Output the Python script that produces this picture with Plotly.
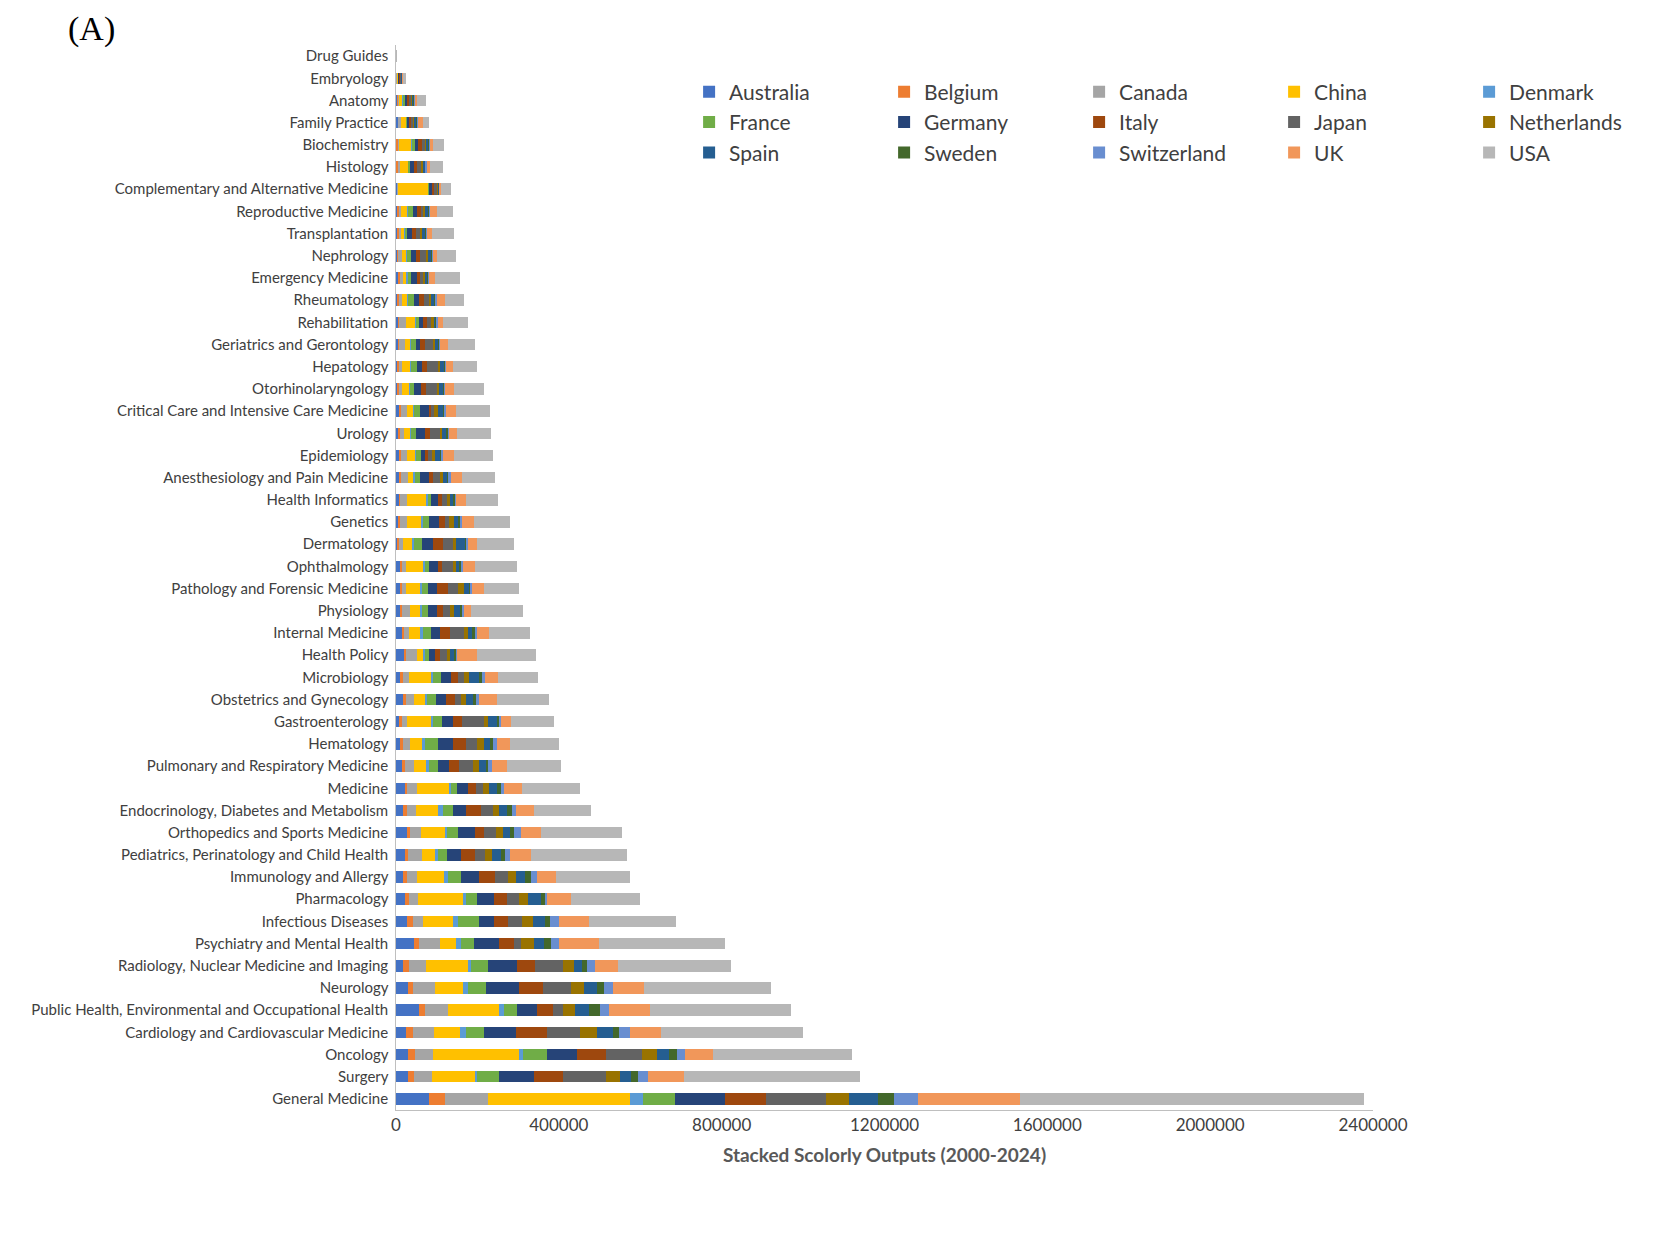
import plotly.graph_objects as go

# categories, top of the chart to bottom
categories = [
    "Drug Guides", "Embryology", "Anatomy", "Family Practice", "Biochemistry",
    "Histology", "Complementary and Alternative Medicine", "Reproductive Medicine",
    "Transplantation", "Nephrology", "Emergency Medicine", "Rheumatology",
    "Rehabilitation", "Geriatrics and Gerontology", "Hepatology",
    "Otorhinolaryngology", "Critical Care and Intensive Care Medicine", "Urology",
    "Epidemiology", "Anesthesiology and Pain Medicine", "Health Informatics",
    "Genetics", "Dermatology", "Ophthalmology", "Pathology and Forensic Medicine",
    "Physiology", "Internal Medicine", "Health Policy", "Microbiology",
    "Obstetrics and Gynecology", "Gastroenterology", "Hematology",
    "Pulmonary and Respiratory Medicine", "Medicine",
    "Endocrinology, Diabetes and Metabolism", "Orthopedics and Sports Medicine",
    "Pediatrics, Perinatology and Child Health", "Immunology and Allergy",
    "Pharmacology", "Infectious Diseases", "Psychiatry and Mental Health",
    "Radiology, Nuclear Medicine and Imaging", "Neurology",
    "Public Health, Environmental and Occupational Health",
    "Cardiology and Cardiovascular Medicine", "Oncology", "Surgery",
    "General Medicine",
]

# outputs in thousands, same order as categories
australia = [0.05, 1, 4, 5, 2, 2, 3, 4, 4, 3, 6, 4, 5, 5, 4, 4, 8, 5, 8, 8, 8, 6, 4, 12,
             10, 10, 14, 20, 10, 18, 7, 10, 14, 22, 17, 26, 23, 17, 22, 26, 45, 18, 30, 57, 25, 29, 30, 82]
belgium = [0.02, 0.5, 1, 1, 4, 4, 1, 3, 3, 3, 3, 3, 2, 3, 3, 3, 4, 4, 4, 5, 3, 4, 4, 3,
           5, 4, 5, 5, 6, 7, 7, 7, 8, 5, 9, 9, 6, 10, 10, 15, 11, 14, 12, 14, 17, 17, 15, 38]
canada = [0.2, 1, 3, 6, 2, 3, 1, 6, 5, 9, 8, 8, 18, 15, 8, 8, 16, 11, 14, 16, 16, 18, 10, 10,
          10, 21, 13, 26, 15, 20, 13, 18, 23, 24, 24, 26, 35, 24, 23, 25, 52, 41, 53, 57, 51, 46, 44, 105]
china = [0.1, 3, 7, 13, 30, 21, 74, 15, 8, 11, 10, 13, 22, 13, 21, 18, 15, 15, 21, 14, 48, 35, 23, 42,
         33, 25, 28, 15, 54, 26, 60, 30, 31, 79, 54, 59, 32, 66, 109, 75, 40, 103, 70, 125, 64, 210, 105, 350]
denmark = [0.02, 0.3, 1, 1, 2, 1, 1, 2, 2, 2, 2, 2, 2, 2, 2, 2, 2, 3, 3, 3, 3, 3, 3, 3,
           5, 5, 6, 5, 5, 5, 3, 5, 4, 5, 12, 5, 6, 10, 8, 11, 11, 8, 11, 12, 14, 10, 6, 32]
france = [0.05, 1, 5, 1, 6, 3, 1, 12, 6, 8, 8, 14, 7, 10, 13, 8, 14, 12, 11, 14, 8, 15, 20, 10,
          15, 13, 20, 9, 21, 22, 24, 32, 22, 15, 24, 28, 23, 32, 28, 51, 32, 43, 44, 32, 45, 59, 52, 78]
germany = [0.05, 2, 6, 6, 7, 9, 7, 10, 11, 12, 15, 12, 11, 11, 13, 18, 21, 20, 10, 20, 16, 25, 27, 23,
           23, 22, 23, 16, 23, 26, 25, 38, 27, 26, 31, 41, 35, 44, 40, 37, 63, 69, 81, 50, 78, 74, 88, 124]
italy = [0.05, 2, 5, 3, 11, 9, 5, 10, 10, 11, 8, 13, 10, 12, 13, 13, 6, 14, 8, 11, 12, 14, 25, 10,
         26, 16, 24, 12, 18, 21, 24, 33, 26, 20, 37, 21, 35, 39, 32, 36, 35, 45, 59, 38, 77, 71, 69, 101]
japan = [0.05, 2, 6, 6, 7, 9, 8, 6, 11, 15, 8, 11, 10, 20, 25, 26, 7, 23, 9, 16, 11, 10, 24, 28,
         26, 17, 33, 17, 16, 15, 52, 25, 35, 18, 30, 31, 23, 32, 30, 33, 18, 68, 71, 26, 81, 88, 107, 147]
netherlands = [0.02, 1, 3, 3, 5, 5, 3, 4, 4, 5, 4, 5, 6, 5, 5, 5, 11, 5, 8, 8, 7, 13, 7, 6,
               13, 9, 11, 8, 11, 12, 11, 18, 14, 15, 16, 16, 18, 21, 23, 27, 32, 29, 30, 29, 41, 36, 34, 57]
spain = [0.05, 1, 3, 6, 4, 6, 2, 8, 8, 9, 5, 10, 5, 9, 12, 12, 13, 13, 13, 12, 10, 10, 23, 9,
         13, 15, 10, 10, 25, 18, 22, 15, 18, 18, 18, 18, 23, 23, 32, 29, 25, 20, 32, 34, 39, 31, 27, 71]
sweden = [0.02, 0.5, 1, 1, 2, 1, 1, 2, 2, 2, 2, 3, 2, 2, 3, 2, 3, 3, 3, 3, 3, 3, 3, 4,
          5, 6, 8, 5, 7, 7, 7, 8, 5, 10, 13, 10, 9, 14, 8, 13, 17, 11, 18, 26, 17, 19, 17, 38]
switzerland = [0.02, 0.5, 2, 1, 2, 2, 1, 2, 2, 2, 2, 3, 2, 2, 2, 2, 4, 3, 3, 4, 3, 6, 3, 4,
               3, 3, 4, 2, 8, 7, 3, 9, 8, 8, 9, 16, 11, 15, 5, 23, 19, 20, 22, 22, 25, 21, 25, 59]
uk = [0.3, 2, 5, 13, 8, 8, 2, 16, 12, 9, 14, 20, 13, 18, 16, 21, 24, 18, 27, 28, 23, 29, 24, 29,
      30, 18, 29, 48, 31, 44, 24, 31, 37, 45, 46, 51, 53, 45, 60, 72, 98, 57, 75, 102, 78, 67, 88, 252]
usa = [1.2, 7, 22, 16, 27, 33, 24, 40, 54, 47, 63, 45, 61, 68, 60, 74, 83, 84, 97, 82, 79, 88, 90, 103,
       85, 129, 102, 146, 100, 128, 107, 122, 133, 141, 138, 197, 236, 182, 170, 216, 309, 277, 314, 346, 348, 343, 433, 843]

countries = ["Australia", "Belgium", "Canada", "China", "Denmark", "France", "Germany",
             "Italy", "Japan", "Netherlands", "Spain", "Sweden", "Switzerland", "UK", "USA"]
series = [australia, belgium, canada, china, denmark, france, germany, italy, japan,
          netherlands, spain, sweden, switzerland, uk, usa]
colors = ["#4472C4", "#ED7D31", "#A5A5A5", "#FFC000", "#5B9BD5", "#70AD47", "#264478",
          "#9E480E", "#636363", "#997300", "#255E91", "#43682B", "#698ED0", "#F1975A", "#B7B7B7"]

x_ticks = [0, 400000, 800000, 1200000, 1600000, 2000000, 2400000]

fig = go.Figure()
for name, vals, col in zip(countries, series, colors):
    fig.add_trace(
        go.Bar(
            name=name,
            y=categories,
            x=[v * 1000 for v in vals],
            orientation="h",
            marker=dict(color=col, line=dict(width=0)),
        )
    )

fig.update_layout(
    barmode="stack",
    bargap=0.48,
    width=1668,
    height=1247,
    margin=dict(l=388, r=138, t=37, b=145, pad=0),
    template=None,
    plot_bgcolor="white",
    paper_bgcolor="white",
    font=dict(family="Lato, Open Sans, sans-serif", size=15, color="#404040"),
    legend=dict(
        orientation="h",
        traceorder="normal",
        x=0.3,
        y=0.975,
        xanchor="left",
        yanchor="top",
        entrywidth=150,
        entrywidthmode="pixels",
        font=dict(size=21, color="#404040"),
        itemwidth=30,
    ),
    showlegend=True,
)
fig.update_xaxes(
    range=[0, 2400000],
    tickvals=x_ticks,
    ticktext=[str(t) for t in x_ticks],
    showgrid=False,
    zeroline=False,
    showline=True,
    linecolor="#BFBFBF",
    ticks="",
    tickfont=dict(size=17, color="#404040"),
    title=dict(text="<b>Stacked Scolorly Outputs (2000-2024)</b>",
               font=dict(size=19, color="#595959"), standoff=14),
)
fig.update_yaxes(
    autorange="reversed",
    showgrid=False,
    zeroline=False,
    showline=True,
    linecolor="#BFBFBF",
    ticks="",
    tickfont=dict(size=15, color="#404040"),
    ticksuffix=" ",
)
fig.add_annotation(
    text="(A)", xref="paper", yref="paper", x=-0.338, y=1.035,
    xanchor="left", yanchor="top", showarrow=False,
    font=dict(family="Liberation Serif, serif", size=34, color="black"),
)

fig.write_html("out.html")
